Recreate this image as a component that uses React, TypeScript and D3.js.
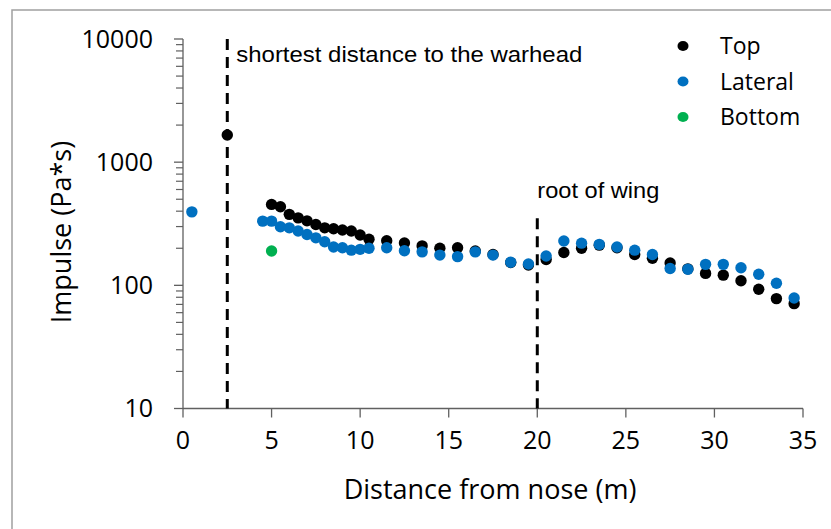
import React from "react";
import * as d3 from "d3";

// Impulse measured along the fuselage at three sensor rows
const topDist = [2.5, 5, 5.5, 6, 6.5, 7, 7.5, 8, 8.5, 9, 9.5, 10, 10.5, 11.5, 12.5, 13.5, 14.5, 15.5, 16.5, 17.5, 18.5, 19.5, 20.5, 21.5, 22.5, 23.5, 24.5, 25.5, 26.5, 27.5, 28.5, 29.5, 30.5, 31.5, 32.5, 33.5, 34.5];
const topImpulse = [1660, 454, 434, 377, 353, 334, 312, 293, 288, 281, 276, 256, 237, 230, 221, 209, 200, 202, 190, 178, 153, 146, 162, 185, 200, 212, 202, 178, 166, 152, 136, 125, 121, 109, 93, 78, 71];

const lateralDist = [0.5, 4.5, 5, 5.5, 6, 6.5, 7, 7.5, 8, 8.5, 9, 9.5, 10, 10.5, 11.5, 12.5, 13.5, 14.5, 15.5, 16.5, 17.5, 18.5, 19.5, 20.5, 21.5, 22.5, 23.5, 24.5, 25.5, 26.5, 27.5, 28.5, 29.5, 30.5, 31.5, 32.5, 33.5, 34.5];
const lateralImpulse = [395, 332, 332, 299, 293, 276, 259, 243, 226, 205, 202, 193, 196, 200, 202, 191, 187, 176, 171, 187, 176, 154, 149, 173, 229, 220, 215, 205, 193, 178, 137, 135, 148, 148, 139, 123, 104, 79];

const bottomDist = [5];
const bottomImpulse = [190];

const seriesNames = ["Top", "Lateral", "Bottom"];
const seriesColors = ["#000000", "#0070C0", "#00B050"];

const xTicks = [0, 5, 10, 15, 20, 25, 30, 35];
const yMajorTicks = [10, 100, 1000, 10000];

// Reference lines: position along the fuselage and the impulse range they span
const refLineX = [2.5, 20];
const refLineTop = [10000, 350];
const refLineLabels = ["shortest distance to the warhead", "root of wing"];
const refLabelValue = [7500, 590];
const refLabelWidth = [346, 122];

const W = 831;
const H = 529;
const font = "'Open Sans', sans-serif";

export default function App() {
  const x = d3.scaleLinear().domain([0, 35]).range([183, 803]);
  const y = d3.scaleLog().domain([10, 10000]).range([408.5, 39]);

  const minorTicks: number[] = [];
  for (let d = 10; d < 10000; d *= 10) {
    for (let k = 2; k <= 9; k++) minorTicks.push(d * k);
  }

  const series = [
    { dist: topDist, val: topImpulse },
    { dist: lateralDist, val: lateralImpulse },
    { dist: bottomDist, val: bottomImpulse },
  ];

  const axisColor = "#606060";
  const x0 = x(0);
  const yBase = y(10);

  return (
    <svg
      width={W}
      height={H}
      style={{ position: "absolute", left: 0, top: 0, background: "#fff" }}
    >
      <rect x={0} y={0} width={W} height={H} fill="#fff" />
      <rect x={12} y={10} width={W + 40} height={H + 40} fill="none" stroke="#a0a0a0" strokeWidth={1.5} />

      {/* y axis */}
      <line x1={x0} x2={x0} y1={y(10000)} y2={yBase} stroke={axisColor} strokeWidth={1.3} />
      {yMajorTicks.map((t) => (
        <g key={"ym" + t}>
          <line x1={x0 - 9} x2={x0} y1={y(t)} y2={y(t)} stroke={axisColor} strokeWidth={1.3} />
          <text x={153} y={y(t)} dy="0.35em" textAnchor="end" fontFamily={font} fontSize={25} fill="#000">
            {t}
          </text>
        </g>
      ))}
      {minorTicks.map((t) => (
        <line key={"yn" + t} x1={x0 - 7} x2={x0} y1={y(t)} y2={y(t)} stroke={axisColor} strokeWidth={1.2} />
      ))}

      {/* x axis */}
      <line x1={x0} x2={x(35)} y1={yBase} y2={yBase} stroke={axisColor} strokeWidth={1.3} />
      {xTicks.map((t) => (
        <g key={"xt" + t}>
          <line x1={x(t)} x2={x(t)} y1={yBase} y2={yBase + 9} stroke={axisColor} strokeWidth={1.3} />
          <text x={x(t)} y={440} dy="0.35em" textAnchor="middle" fontFamily={font} fontSize={25} fill="#000">
            {t}
          </text>
        </g>
      ))}

      {/* axis titles */}
      <text x={490} y={490} dy="0.35em" textAnchor="middle" fontFamily={font} fontSize={27} fill="#000">
        Distance from nose (m)
      </text>
      <text
        transform={`translate(62,232) rotate(-90)`}
        dy="0.35em"
        textAnchor="middle"
        fontFamily={font}
        fontSize={27}
        fill="#000"
      >
        Impulse (Pa*s)
      </text>

      {/* reference lines */}
      {refLineX.map((v, i) => (
        <g key={"ref" + i}>
          <line
            x1={x(v)}
            x2={x(v)}
            y1={y(refLineTop[i])}
            y2={yBase}
            stroke="#000"
            strokeWidth={3}
            strokeDasharray="11,7"
          />
          <text
            x={x(v) + (i === 0 ? 9 : 0)}
            y={y(refLabelValue[i])}
            dy="0.35em"
            fontFamily="'Liberation Sans', Arial, sans-serif"
            fontSize={22}
            textLength={refLabelWidth[i]}
            lengthAdjust="spacingAndGlyphs"
            fill="#000"
          >
            {refLineLabels[i]}
          </text>
        </g>
      ))}

      {/* data points */}
      {series.map((s, si) => (
        <g key={"s" + si}>
          {s.dist.map((d, i) => (
            <circle key={i} cx={x(d)} cy={y(s.val[i])} r={5.7} fill={seriesColors[si]} />
          ))}
        </g>
      ))}

      {/* legend */}
      {seriesNames.map((n, i) => (
        <g key={"lg" + i} transform={`translate(683,${46 + i * 35.5})`}>
          <ellipse cx={0} cy={0} rx={5.5} ry={5} fill={seriesColors[i]} />
          <text x={37} y={0} dy="0.35em" fontFamily={font} fontSize={23} fill="#000">
            {n}
          </text>
        </g>
      ))}
    </svg>
  );
}
